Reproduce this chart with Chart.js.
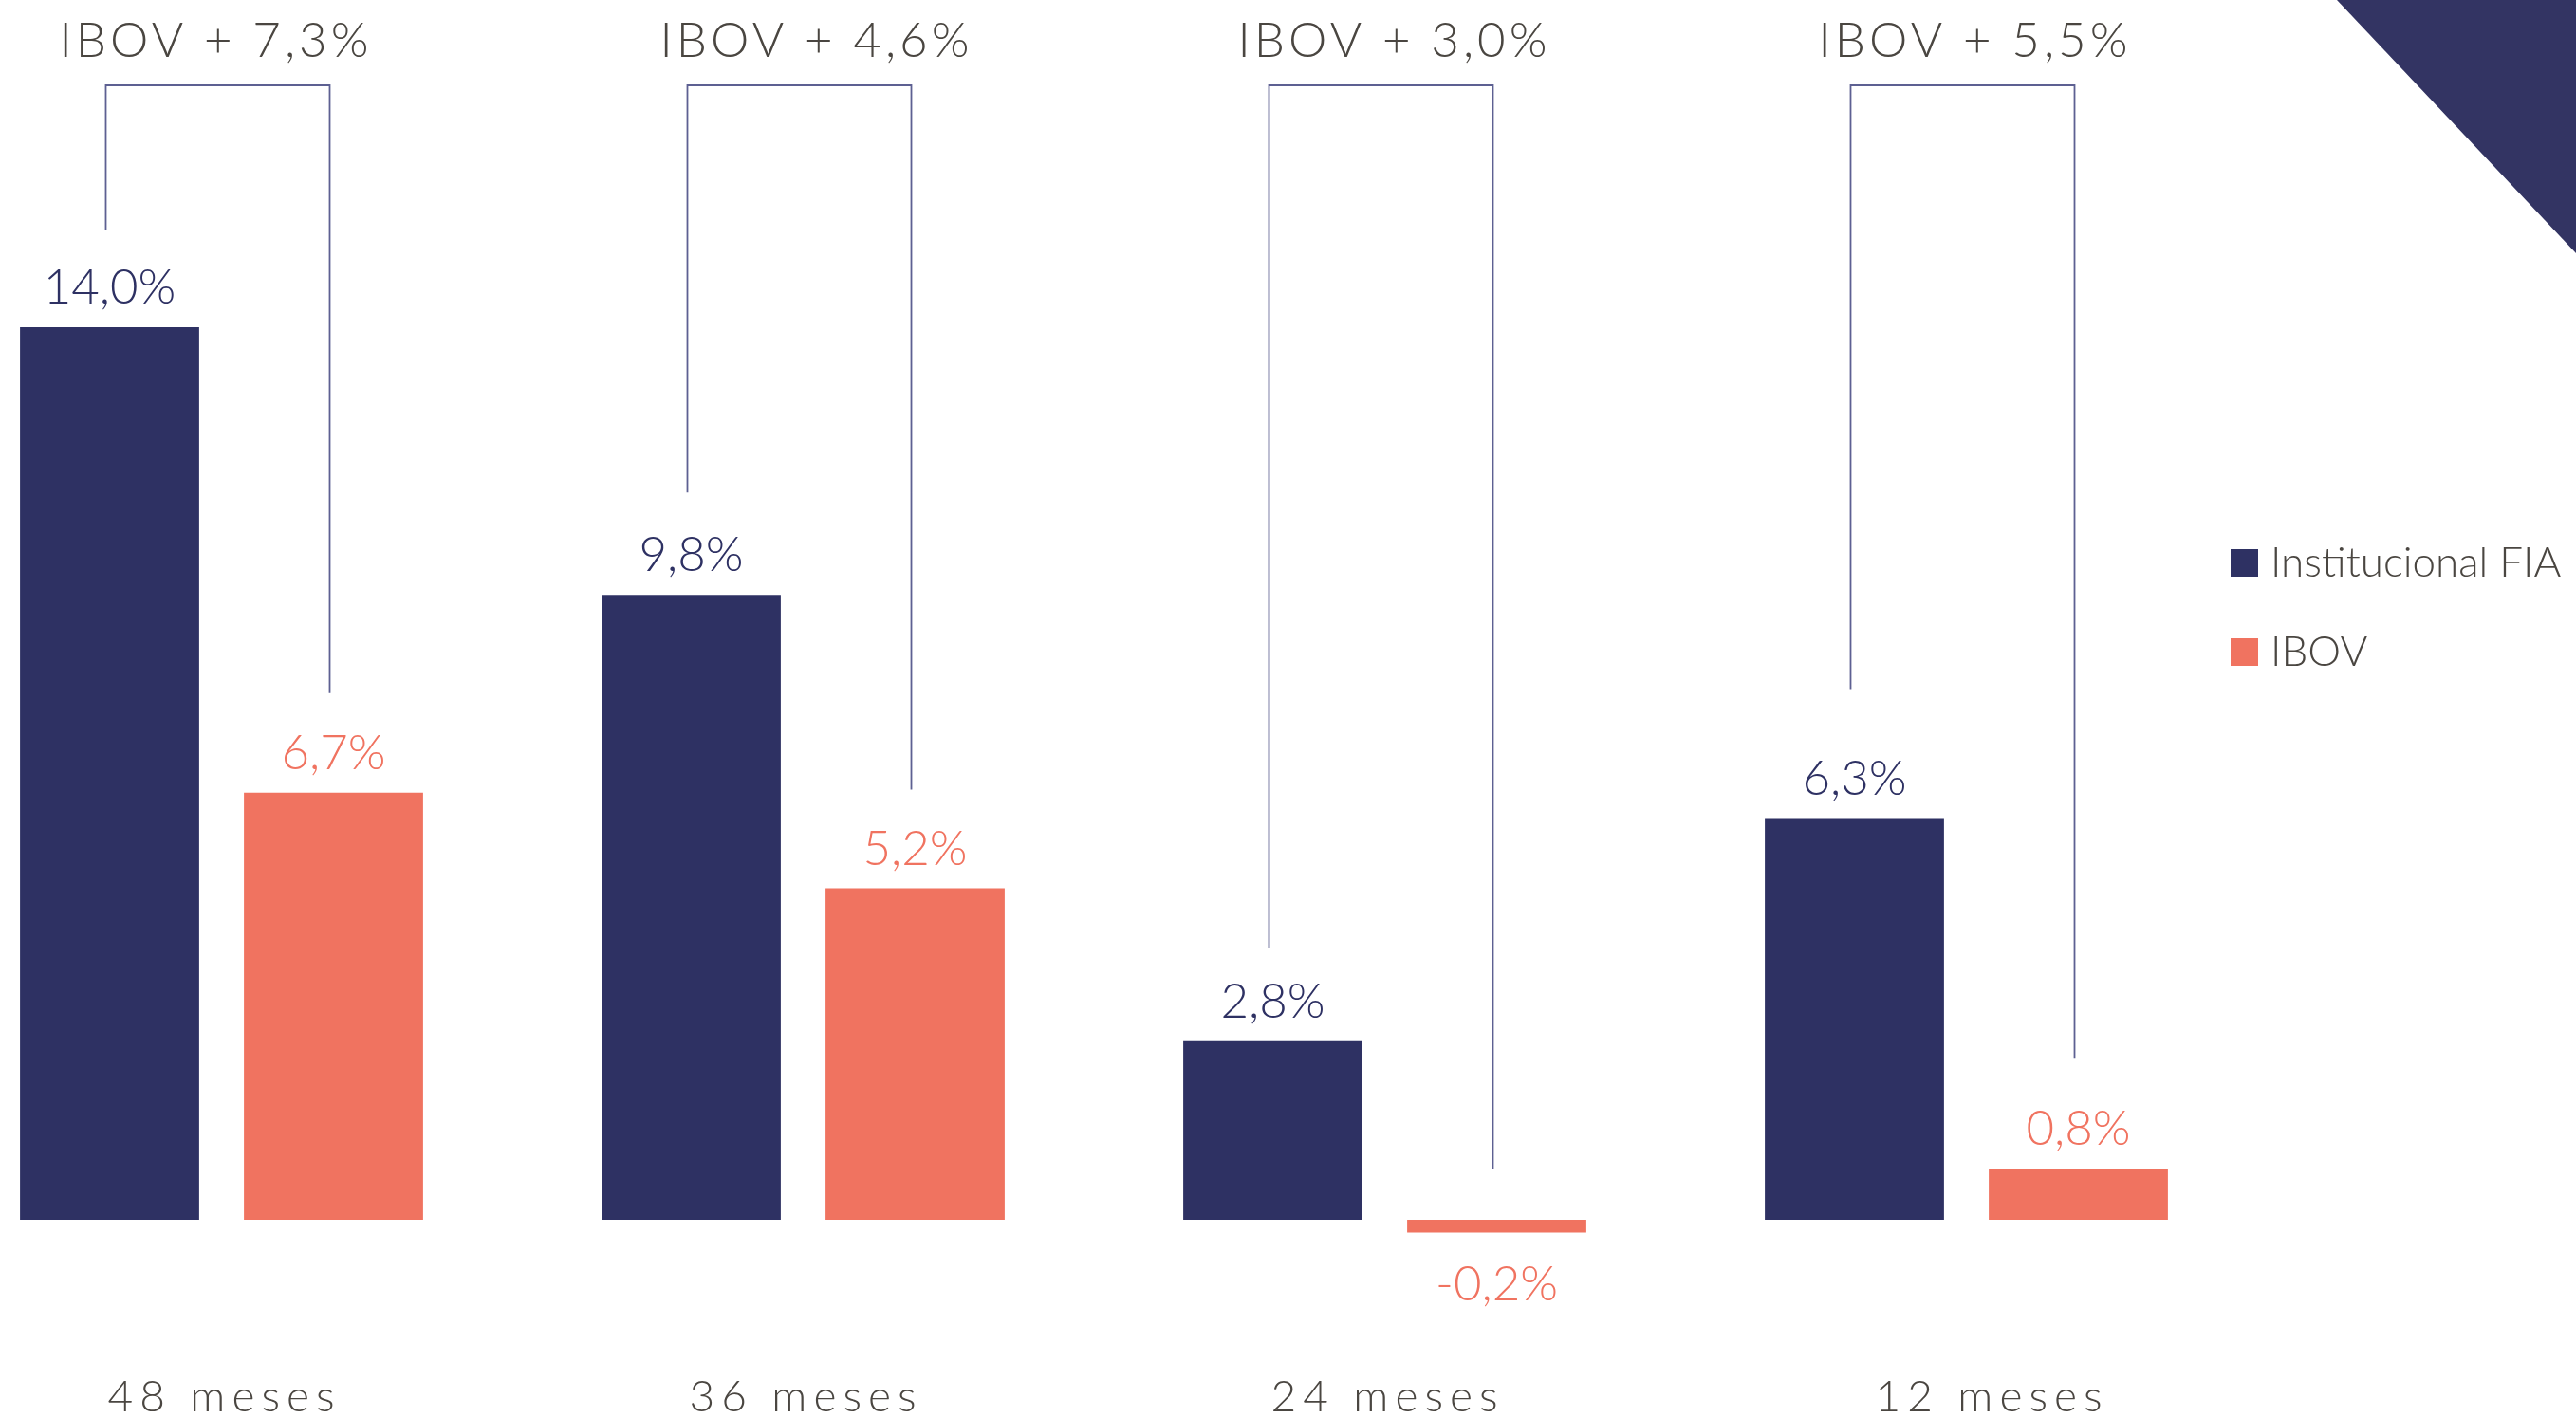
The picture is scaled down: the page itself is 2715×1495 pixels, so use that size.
<!DOCTYPE html>
<html>
<head>
<meta charset="utf-8">
<script src="https://cdn.jsdelivr.net/npm/chart.js@4.4.0/dist/chart.umd.min.js"></script>
<style>
  html, body { margin: 0; padding: 0; background: #ffffff; overflow: hidden; }
  #wrap { position: absolute; left: -73px; top: 0; width: 2788px; height: 1495px; }
</style>
</head>
<body>
<div id="wrap"><canvas id="c"></canvas></div>
<script>
const categories = ['48 meses', '36 meses', '24 meses', '12 meses'];
const fundValues = [14.0, 9.8, 2.8, 6.3];
const ibovValues = [6.7, 5.2, -0.2, 0.8];
const spreadLabels = ['IBOV + 7,3%', 'IBOV + 4,6%', 'IBOV + 3,0%', 'IBOV + 5,5%'];
const seriesNames = ['Institucional FIA', 'IBOV'];

// styling (pixel gaps between bracket ends and bars, label nudges)
const STYLE = {
  navyGap: [103, 108, 98, 136],
  coralGap: [105, 104, 54, 117],
  spreadShift: [-4, 16, 12, 11],
  catShift: [0, 0, 0, 24]
};

const NAVY = '#2e3163';
const CORAL = '#f07360';
const GRAY = '#4a4641';
const LINE = '#5d6092';
const FONT = 'Lato, "Open Sans", sans-serif';
const OX = 73; // canvas shift

function fmt(v) { return v.toFixed(1).replace('.', ',') + '%'; }

const overlay = {
  id: 'overlay',
  afterDatasetsDraw(chart) {
    const ctx = chart.ctx;
    const m0 = chart.getDatasetMeta(0).data;
    const m1 = chart.getDatasetMeta(1).data;
    const yz = chart.scales.y.getPixelForValue(0);
    ctx.save();
    // triangle
    ctx.fillStyle = '#333463';
    ctx.beginPath();
    ctx.moveTo(2463 + OX, 0);
    ctx.lineTo(2715 + OX, 0);
    ctx.lineTo(2715 + OX, 267);
    ctx.closePath();
    ctx.fill();

    // value labels
    ctx.font = '300 51px ' + FONT;
    ctx.textAlign = 'center';
    ctx.textBaseline = 'alphabetic';
    ctx.letterSpacing = '0px';
    [[m0, fundValues, NAVY], [m1, ibovValues, CORAL]].forEach(([meta, vals, col]) => {
      ctx.fillStyle = col;
      meta.forEach((bar, i) => {
        const v = vals[i];
        if (v >= 0) {
          ctx.fillText(fmt(v), bar.x, bar.y - 25);
        } else {
          ctx.fillText(fmt(v), bar.x, bar.y + 72);
        }
      });
    });

    // brackets
    ctx.strokeStyle = LINE;
    ctx.lineWidth = 1.8;
    const topY = 90;
    categories.forEach((c, i) => {
      const b0 = m0[i], b1 = m1[i];
      const end0 = (fundValues[i] >= 0 ? b0.y : yz) - STYLE.navyGap[i];
      const end1 = (ibovValues[i] >= 0 ? b1.y : yz) - STYLE.coralGap[i];
      const x0 = b0.x - 4, x1 = b1.x - 4;
      ctx.beginPath();
      ctx.moveTo(x0, end0);
      ctx.lineTo(x0, topY);
      ctx.lineTo(x1, topY);
      ctx.lineTo(x1, end1);
      ctx.stroke();
      // spread label
      ctx.fillStyle = GRAY;
      ctx.font = '300 51px ' + FONT;
      ctx.letterSpacing = '4px';
      ctx.textAlign = 'center';
      ctx.fillText(spreadLabels[i], (x0 + x1) / 2 + 2 + STYLE.spreadShift[i], 60);
      // category label
      ctx.font = '300 46px ' + FONT;
      ctx.letterSpacing = '7px';
      ctx.fillText(c, chart.scales.x.getPixelForValue(i) + 3 + STYLE.catShift[i], 1488);
    });

    // legend
    ctx.letterSpacing = '0px';
    ctx.textAlign = 'left';
    ctx.font = '300 44px ' + FONT;
    const legCols = [NAVY, CORAL];
    const legY = [579, 673];
    seriesNames.forEach((n, k) => {
      ctx.fillStyle = legCols[k];
      ctx.fillRect(2351 + OX, legY[k], 29, 29);
      ctx.fillStyle = GRAY;
      ctx.fillText(n, 2393 + OX, legY[k] + 29);
    });
    ctx.restore();
  }
};

new Chart(document.getElementById('c'), {
  type: 'bar',
  data: {
    labels: categories,
    datasets: [
      { label: seriesNames[0], data: fundValues, backgroundColor: NAVY, borderWidth: 0 },
      { label: seriesNames[1], data: ibovValues, backgroundColor: CORAL, borderWidth: 0 }
    ]
  },
  options: {
    responsive: true,
    maintainAspectRatio: false,
    animation: false,
    devicePixelRatio: 1,
    layout: { padding: { left: 0, right: 336, top: 210.6, bottom: 7.3 } },
    categoryPercentage: 0.77,
    barPercentage: 0.80,
    scales: {
      x: { display: false, offset: true, grid: { display: false } },
      y: { display: false, min: -3, max: 16, grid: { display: false } }
    },
    plugins: { legend: { display: false }, tooltip: { enabled: false } }
  },
  plugins: [overlay]
});
</script>
</body>
</html>
